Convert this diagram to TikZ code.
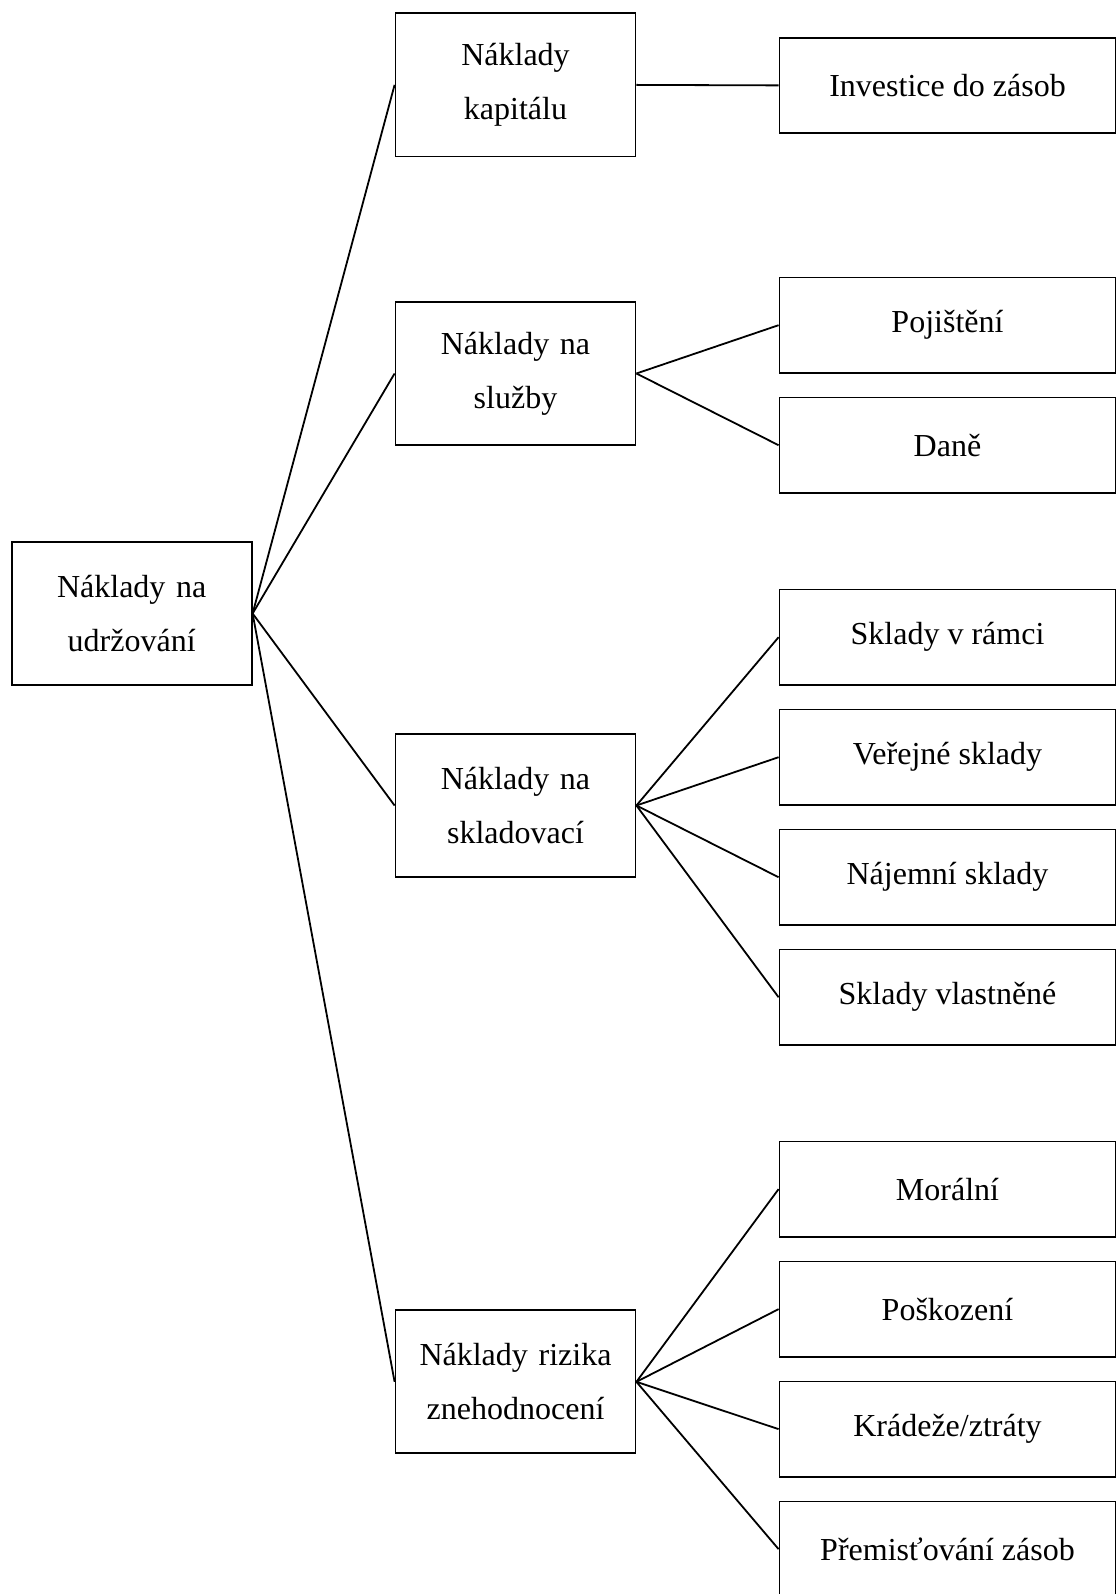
\documentclass[tikz,border=0pt]{standalone}
\usepackage{fontspec}
\setmainfont{Liberation Serif}
\usetikzlibrary{positioning}
\tikzstyle{velky} = [rectangle, minimum width=80pt, minimum height=47.7pt, text width=76pt, align=center, draw=black, line width=0.6pt, inner sep=0pt]
\tikzstyle{maly} = [rectangle, minimum width=112pt, minimum height=31.8pt, align=center, draw=black, line width=0.6pt, inner sep=0pt]
\tikzstyle{spoj} = [line width=0.6pt]

\begin{document}
\begin{tikzpicture}[x=0.3333pt, y=-0.3333pt, node distance=7.6pt, font=\fontsize{10.67pt}{18pt}\selectfont]
			\clip (0,0) rectangle (1117,1594);
			\useasboundingbox (0,0) rectangle (1117,1594);
			
			\node (udrz) [velky] at (131.7,613.5) {Náklady na\\udržování};
			
			\node (kapital) [velky] at (515.5,84.9) {Náklady\\kapitálu};
			\node (sluzby) [velky] at (515.5,373.5) {Náklady na\\služby};
			\node (sklad) [velky] at (515.5,805.5) {Náklady na\\skladovací};
			\node (riziko) [velky] at (515.5,1381.8) {Náklady rizika\\znehodnocení};
			
			\node (invest) [maly] at (947.5,85.4) {Investice do zásob};
			
			\node (pojist) [maly] at (947.5,325.2) {Pojištění};
			\node (dane) [maly,below=of pojist] {Daně};
			
			\node (ramci) [maly] at (947.5,637.2) {Sklady v rámci};
			\node (verejne) [maly,below=of ramci] {Veřejné sklady};
			\node (najem) [maly,below=of verejne] {Nájemní sklady};
			\node (vlast) [maly,below=of najem] {Sklady vlastněné};
			
			\node (moral) [maly] at (947.5,1189.1) {Morální};
			\node (poskoz) [maly,below=of moral] {Poškození};
			\node (kradez) [maly,below=of poskoz] {Krádeže/ztráty};
			\node (premist) [maly,below=of kradez] {Přemisťování zásob};
			
			\foreach \m in {kapital,sluzby,sklad,riziko}
				\draw [spoj] (udrz.east) -- (\m.west);
			\draw [spoj] (kapital.east) -- (invest.west);
			\foreach \p in {pojist,dane}
				\draw [spoj] (sluzby.east) -- (\p.west);
			\foreach \p in {ramci,verejne,najem,vlast}
				\draw [spoj] (sklad.east) -- (\p.west);
			\foreach \p in {moral,poskoz,kradez,premist}
				\draw [spoj] (riziko.east) -- (\p.west);
\end{tikzpicture}
\end{document}
